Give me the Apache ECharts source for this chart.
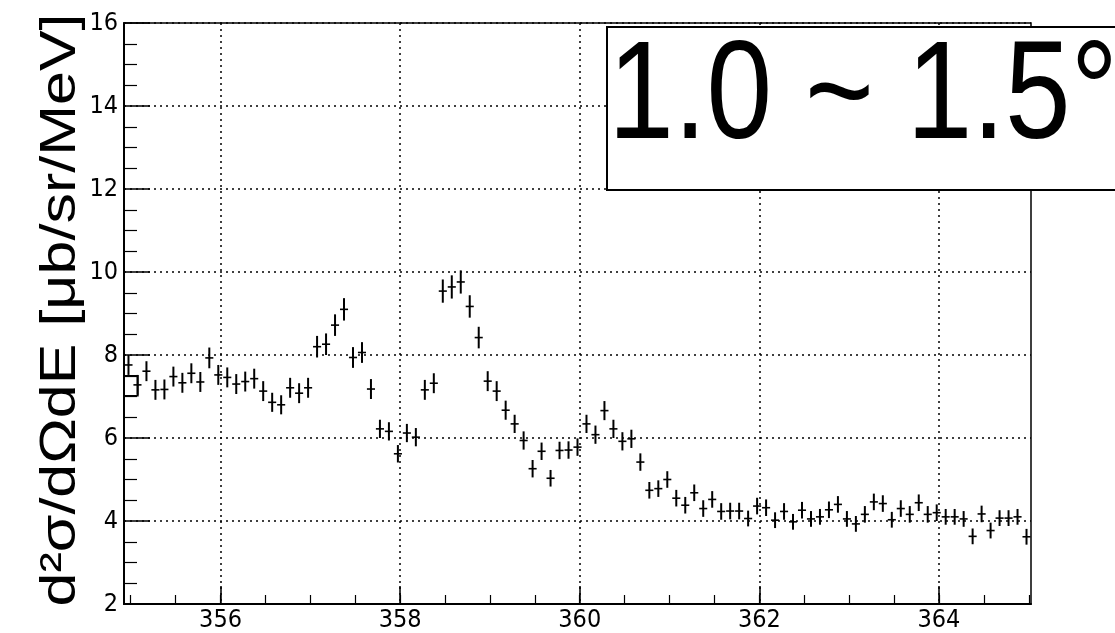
<!DOCTYPE html>
<html>
<head>
<meta charset="utf-8">
<script src="https://cdn.jsdelivr.net/npm/echarts@6/dist/echarts.min.js"></script>
<style>
html,body{margin:0;padding:0;background:#fff;}
#chart{width:1115px;height:633px;}
</style>
</head>
<body>
<div id="chart"></div>
<script>
// ---- data ----
const energies = [
354.975,355.075,355.175,355.275,355.375,355.475,355.575,355.675,355.775,355.875,
355.975,356.075,356.175,356.275,356.375,356.475,356.575,356.675,356.775,356.875,
356.975,357.075,357.175,357.275,357.375,357.475,357.575,357.675,357.775,357.875,
357.975,358.075,358.175,358.275,358.375,358.475,358.575,358.675,358.775,358.875,
358.975,359.075,359.175,359.275,359.375,359.475,359.575,359.675,359.775,359.875,
359.975,360.075,360.175,360.275,360.375,360.475,360.575,360.675,360.775,360.875,
360.975,361.075,361.175,361.275,361.375,361.475,361.575,361.675,361.775,361.875,
361.975,362.075,362.175,362.275,362.375,362.475,362.575,362.675,362.775,362.875,
362.975,363.075,363.175,363.275,363.375,363.475,363.575,363.675,363.775,363.875,
363.975,364.075,364.175,364.275,364.375,364.475,364.575,364.675,364.775,364.875,
364.975];
const crossSection = [
7.76,7.28,7.61,7.16,7.17,7.48,7.33,7.56,7.35,7.93,
7.52,7.46,7.30,7.36,7.43,7.13,6.86,6.80,7.21,7.08,
7.21,8.20,8.26,8.72,9.10,7.94,8.06,7.18,6.22,6.16,
5.62,6.12,6.02,7.16,7.32,9.54,9.64,9.76,9.17,8.42,
7.37,7.13,6.67,6.34,5.94,5.26,5.68,5.03,5.70,5.71,
5.78,6.34,6.08,6.66,6.22,5.92,5.98,5.42,4.74,4.78,
5.00,4.55,4.38,4.68,4.30,4.52,4.23,4.24,4.24,4.06,
4.36,4.32,4.02,4.23,3.98,4.26,4.05,4.10,4.27,4.40,
4.05,3.93,4.16,4.46,4.42,4.03,4.30,4.16,4.44,4.16,
4.20,4.10,4.10,4.05,3.63,4.17,3.77,4.07,4.07,4.10,
3.62];
const errors = [
0.24,0.24,0.24,0.24,0.24,0.24,0.24,0.24,0.24,0.25,
0.24,0.24,0.24,0.24,0.24,0.24,0.23,0.23,0.24,0.24,
0.24,0.26,0.26,0.26,0.27,0.25,0.25,0.24,0.22,0.22,
0.21,0.22,0.22,0.24,0.24,0.28,0.28,0.28,0.27,0.26,
0.24,0.24,0.23,0.22,0.22,0.21,0.21,0.20,0.21,0.21,
0.21,0.22,0.22,0.23,0.22,0.22,0.22,0.21,0.20,0.20,
0.20,0.20,0.20,0.20,0.20,0.20,0.20,0.20,0.20,0.19,
0.20,0.20,0.19,0.20,0.19,0.20,0.19,0.19,0.20,0.20,
0.19,0.19,0.20,0.20,0.20,0.19,0.20,0.20,0.20,0.20,
0.20,0.19,0.19,0.19,0.19,0.20,0.19,0.19,0.19,0.19,
0.19];
const binHalfWidth = 0.05;
const xRange = [354.925, 365.025];
const yRange = [2, 16];
const xMajorTicks = [356, 358, 360, 362, 364];
const xMinorTicks = [355, 355.5, 356, 356.5, 357, 357.5, 358, 358.5, 359, 359.5, 360,
  360.5, 361, 361.5, 362, 362.5, 363, 363.5, 364, 364.5, 365];
const boxX = [354.925, 355.08];
const boxY = [7.02, 7.50];
const yTitle = 'd\u00B2\u03C3/d\u03A9dE [\u03BCb/sr/MeV]';
const panelLabel = '1.0 ~ 1.5\u00B0';

const points = energies.map((e, i) => [e, crossSection[i], errors[i]]);

const chart = echarts.init(document.getElementById('chart'), null, {renderer: 'canvas'});
const labelFont = "'Liberation Sans Narrow', 'DejaVu Sans Condensed', 'Liberation Sans', Arial, sans-serif";
const dotted = {color: '#000', width: 1.5, type: [2, 4]};

chart.setOption({
  animation: false,
  backgroundColor: '#fff',
  grid: {left: 124, right: 84, top: 23, bottom: 26, show: true, borderColor: '#000', borderWidth: 1.5, backgroundColor: 'transparent'},
  xAxis: [{
    type: 'value', min: xRange[0], max: xRange[1], position: 'bottom',
    axisLine: {show: true, lineStyle: {color: '#000', width: 2}},
    axisTick: {show: true, inside: true, length: 18, customValues: xMajorTicks, lineStyle: {color: '#000', width: 1.5}},
    axisLabel: {customValues: xMajorTicks, color: '#000', fontSize: 25, fontFamily: labelFont, margin: 4},
    splitLine: {show: true, lineStyle: dotted}
  }, {
    type: 'value', min: xRange[0], max: xRange[1], position: 'bottom',
    axisLine: {show: false},
    axisTick: {show: true, inside: true, length: 9, customValues: xMinorTicks, lineStyle: {color: '#000', width: 1.2}},
    axisLabel: {show: false},
    splitLine: {show: false}
  }],
  yAxis: {
    type: 'value', min: yRange[0], max: yRange[1], interval: 2,
    axisLine: {show: true, lineStyle: {color: '#000', width: 2}},
    axisTick: {show: true, inside: true, length: 26, lineStyle: {color: '#000', width: 1.5}},
    minorTick: {show: true, splitNumber: 4, length: 13, lineStyle: {color: '#000', width: 1.2}},
    axisLabel: {color: '#000', fontSize: 25, fontFamily: labelFont, margin: 6},
    splitLine: {show: true, lineStyle: dotted}
  },
  series: [{
    type: 'custom',
    xAxisIndex: 0,
    data: points,
    encode: {x: 0, y: 1},
    clip: false,
    renderItem: function (params, api) {
      const x = api.value(0), y = api.value(1), e = api.value(2);
      const top = api.coord([x, y + e]);
      const bot = api.coord([x, y - e]);
      const l = api.coord([x - binHalfWidth * 0.9, y]);
      const r = api.coord([x + binHalfWidth * 0.9, y]);
      return {type: 'group', children: [
        {type: 'line', shape: {x1: top[0], y1: top[1], x2: bot[0], y2: bot[1]}, style: {stroke: '#000', lineWidth: 2}},
        {type: 'line', shape: {x1: l[0], y1: l[1], x2: r[0], y2: r[1]}, style: {stroke: '#000', lineWidth: 1.6}}
      ]};
    }
  }, {
    type: 'custom',
    xAxisIndex: 0,
    data: [[boxX[0], boxY[0], boxX[1], boxY[1]]],
    encode: {x: [0, 2], y: [1, 3]},
    renderItem: function (params, api) {
      const p0 = api.coord([api.value(0), api.value(3)]);
      const p1 = api.coord([api.value(2), api.value(1)]);
      return {type: 'rect', shape: {x: p0[0], y: p0[1], width: p1[0] - p0[0], height: p1[1] - p0[1]},
        style: {fill: 'none', stroke: '#000', lineWidth: 1.5}};
    }
  }],
  graphic: [{
    type: 'text',
    x: 61, y: 310,
    rotation: Math.PI / 2,
    scaleX: 1.22,
    style: {text: yTitle, fontSize: 50, fontFamily: "'Liberation Sans', Arial, sans-serif", fill: '#000', align: 'center', verticalAlign: 'middle'}
  }, {
    type: 'rect',
    shape: {x: 607, y: 27, width: 530, height: 163},
    style: {fill: '#fff', stroke: '#000', lineWidth: 2},
    z: 10
  }, {
    type: 'text',
    x: 863, y: 100,
    scaleY: 1.18,
    style: {text: panelLabel, fontSize: 118, fontFamily: "'Liberation Sans', Arial, sans-serif", fill: '#000', align: 'center', verticalAlign: 'middle'},
    z: 11
  }]
});
</script>
</body>
</html>
